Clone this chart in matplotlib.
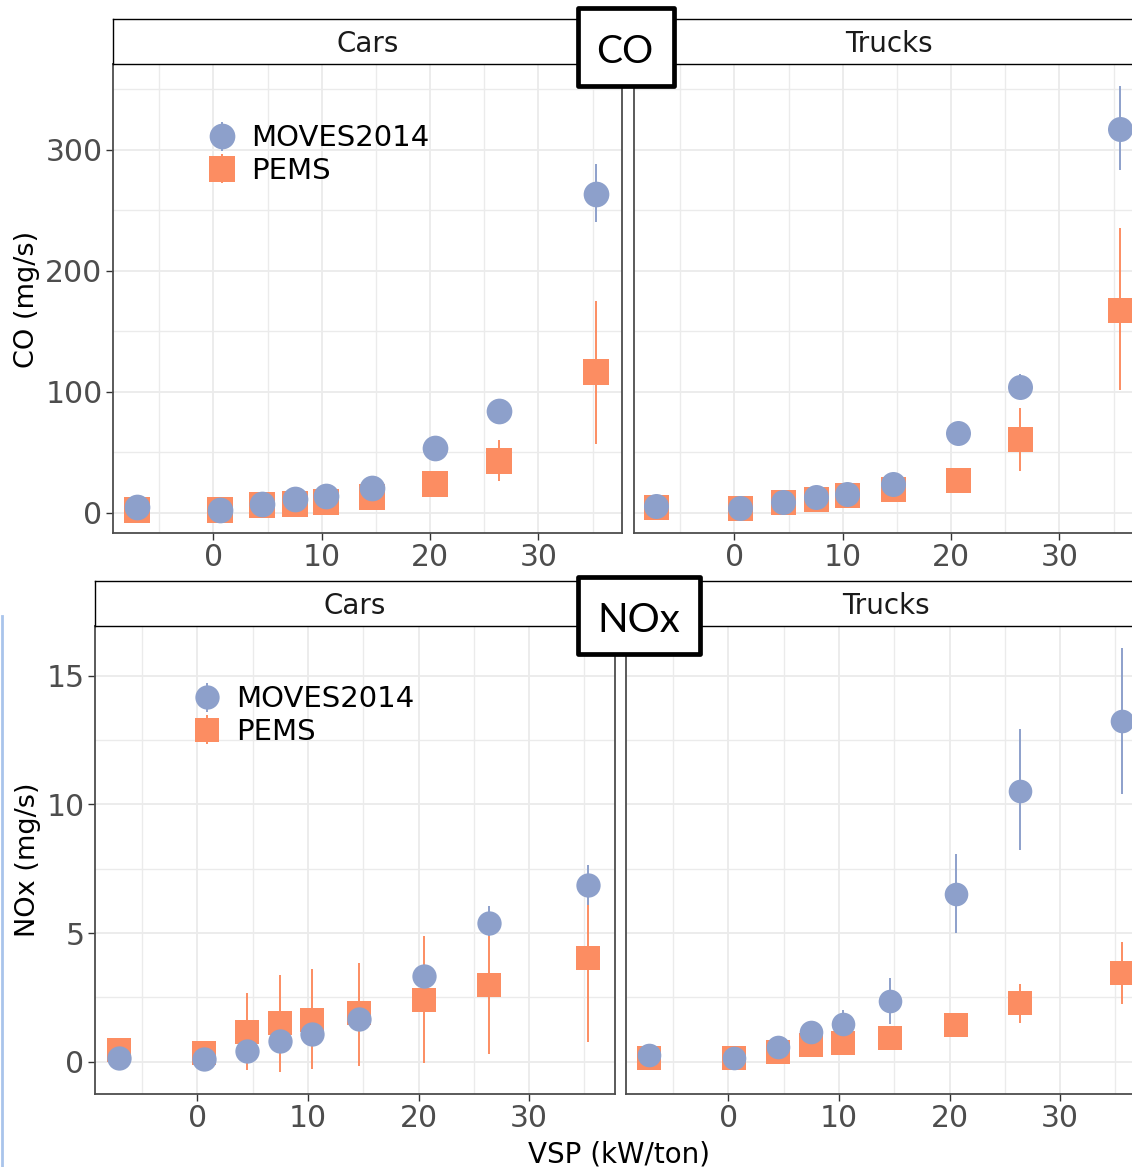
import matplotlib
matplotlib.use('Agg')
import matplotlib.pyplot as plt
from matplotlib.patches import Rectangle
from matplotlib.lines import Line2D
from matplotlib.ticker import FixedLocator

plt.rcParams['font.family'] = ['DejaVu Sans']

W, H = 1132, 1167

# VSP bin centres (kW/ton)
vsp_cars = [-7.1, 0.6, 4.5, 7.5, 10.4, 14.6, 20.5, 26.4, 35.3]
vsp_trucks = [-7.2, 0.5, 4.5, 7.5, 10.4, 14.6, 20.6, 26.4, 35.6]

# CO (mg/s) - cars
co_cars_moves = [5.2, 2.1, 7.6, 11.3, 13.7, 20.5, 54, 84, 263]
co_cars_moves_lo = [4, 1, 6, 10, 12, 19, 52, 82, 240]
co_cars_moves_hi = [6.5, 3, 9, 13, 15.5, 22, 56, 87, 288]
co_cars_pems = [2.1, 2.7, 6.7, 7.6, 8.9, 12.8, 23.5, 42.8, 116]
co_cars_pems_lo = [1, 1.5, 5, 6, 7, 10, 20, 26, 57]
co_cars_pems_hi = [3.5, 4, 8.5, 9.5, 11, 16, 27, 60, 175]

# CO (mg/s) - trucks
co_trucks_moves = [6.1, 3.7, 8.9, 13.4, 15.3, 24.1, 66.3, 104, 317]
co_trucks_moves_lo = [5, 2.5, 7.5, 12, 14, 22, 63, 94, 283]
co_trucks_moves_hi = [7.5, 5, 10.5, 15, 17, 26.5, 70, 115, 353]
co_trucks_pems = [4.6, 3.7, 8.9, 11.3, 15, 19.6, 27.5, 60.8, 167.7]
co_trucks_pems_lo = [3, 2.5, 7, 9.5, 13, 17, 24, 34.8, 101.4]
co_trucks_pems_hi = [6, 5, 11, 13, 17, 22.5, 31, 86.8, 235]

# NOx (mg/s) - cars
nox_cars_moves = [0.15, 0.09, 0.4, 0.81, 1.06, 1.64, 3.34, 5.39, 6.87]
nox_cars_moves_lo = [0.1, 0.05, 0.33, 0.7, 0.95, 1.5, 3.1, 4.9, 6.1]
nox_cars_moves_hi = [0.2, 0.13, 0.47, 0.92, 1.2, 1.8, 3.6, 6.07, 7.65]
nox_cars_pems = [0.46, 0.34, 1.15, 1.49, 1.62, 1.88, 2.39, 2.97, 4.03]
nox_cars_pems_lo = [0.05, 0.15, -0.34, -0.4, -0.28, -0.18, -0.04, 0.3, 0.78]
nox_cars_pems_hi = [0.93, 0.55, 2.66, 3.35, 3.59, 3.83, 4.89, 5.0, 6.3]

# NOx (mg/s) - trucks
nox_trucks_moves = [0.24, 0.13, 0.56, 1.15, 1.45, 2.35, 6.53, 10.53, 13.25]
nox_trucks_moves_lo = [0.15, 0.08, 0.45, 1.0, 1.2, 1.48, 4.99, 8.24, 10.4]
nox_trucks_moves_hi = [0.33, 0.2, 0.68, 1.3, 2.0, 3.25, 8.08, 12.92, 16.1]
nox_trucks_pems = [0.15, 0.15, 0.38, 0.64, 0.74, 0.93, 1.43, 2.27, 3.44]
nox_trucks_pems_lo = [0.1, 0.1, 0.3, 0.55, 0.64, 0.82, 1.3, 1.52, 2.23]
nox_trucks_pems_hi = [0.2, 0.2, 0.46, 0.74, 0.85, 1.05, 1.56, 3.03, 4.67]

x_ticks = [0, 10, 20, 30]
x_minor = [-5, 5, 15, 25, 35]
co_ticks = [0, 100, 200, 300]
co_minor = [50, 150, 250, 350]
nox_ticks = [0, 5, 10, 15]
nox_minor = [2.5, 7.5, 12.5]

blue = '#8DA0CB'
orange = '#FC8D62'

fig = plt.figure(figsize=(W / 100, H / 100), dpi=100)


def px_axes(left, top, width, height):
    return fig.add_axes([left / W, 1 - (top + height) / H, width / W, height / H])


def errs(mean, lo, hi):
    return [[m - l for m, l in zip(mean, lo)], [h - m for m, h in zip(mean, hi)]]


def panel(left, top, width, height, strip_h, title, x, moves, pems,
          ylim, yticks, yminor, ms, show_y):
    ax = px_axes(left, top, width, height)
    hp = ax.errorbar(x, pems[0], yerr=errs(*pems), fmt='s', color=orange,
                     ms=ms, mew=0, elinewidth=1.4, capsize=0, zorder=3)
    hm = ax.errorbar(x, moves[0], yerr=errs(*moves), fmt='o', color=blue,
                     ms=ms, mew=0, elinewidth=1.4, capsize=0, zorder=4)
    ax.set_xlim(-9.27, 37.72)
    ax.set_ylim(*ylim)
    ax.xaxis.set_major_locator(FixedLocator(x_ticks))
    ax.xaxis.set_minor_locator(FixedLocator(x_minor))
    ax.yaxis.set_major_locator(FixedLocator(yticks))
    ax.yaxis.set_minor_locator(FixedLocator(yminor))
    ax.set_axisbelow(True)
    ax.grid(which='major', color='#EBEBEB', lw=1.3)
    ax.grid(which='minor', color='#EBEBEB', lw=1.0)
    ax.tick_params(which='minor', length=0)
    ax.tick_params(which='major', length=5, width=1, color='#333333',
                   labelsize=21.5, labelcolor='#4D4D4D', pad=2.5)
    if not show_y:
        ax.tick_params(axis='y', left=False, labelleft=False)
    for s in ax.spines.values():
        s.set_color('#4D4D4D')
        s.set_linewidth(1.3)

    st = px_axes(left, top - strip_h, width, strip_h)
    st.set_xticks([])
    st.set_yticks([])
    for s in st.spines.values():
        s.set_color('black')
        s.set_linewidth(1.0)
    st.text(0.5, 0.44, title, ha='center', va='center', fontsize=20,
            color='#1A1A1A', transform=st.transAxes)
    return ax, hm, hp


# CO figure (top)
ax_co, hm, hp = panel(113, 63.5, 509, 469, 45, 'Cars', vsp_cars,
                      (co_cars_moves, co_cars_moves_lo, co_cars_moves_hi),
                      (co_cars_pems, co_cars_pems_lo, co_cars_pems_hi),
                      (-16.2, 371.2), co_ticks, co_minor, 18.5, True)
ax_co.legend([hm, hp], ['MOVES2014', 'PEMS'], loc='upper left',
             bbox_to_anchor=(0.185, 0.87), frameon=False, fontsize=21,
             handlelength=1.0, handletextpad=0.5, labelspacing=0.15,
             borderaxespad=0, borderpad=0)
panel(634, 63.5, 509, 469, 45, 'Trucks', vsp_trucks,
      (co_trucks_moves, co_trucks_moves_lo, co_trucks_moves_hi),
      (co_trucks_pems, co_trucks_pems_lo, co_trucks_pems_hi),
      (-16.2, 371.2), co_ticks, co_minor, 18, False)

# NOx figure (bottom)
ax_nox, hm, hp = panel(95, 625.5, 519.5, 468.5, 44.5, 'Cars', vsp_cars,
                       (nox_cars_moves, nox_cars_moves_lo, nox_cars_moves_hi),
                       (nox_cars_pems, nox_cars_pems_lo, nox_cars_pems_hi),
                       (-1.26, 16.96), nox_ticks, nox_minor, 17.5, True)
ax_nox.legend([hm, hp], ['MOVES2014', 'PEMS'], loc='upper left',
              bbox_to_anchor=(0.188, 0.872), frameon=False, fontsize=21,
              handlelength=1.0, handletextpad=0.5, labelspacing=0.15,
              borderaxespad=0, borderpad=0)
panel(626, 625.5, 519.5, 468.5, 44.5, 'Trucks', vsp_trucks,
      (nox_trucks_moves, nox_trucks_moves_lo, nox_trucks_moves_hi),
      (nox_trucks_pems, nox_trucks_pems_lo, nox_trucks_pems_hi),
      (-1.26, 16.96), nox_ticks, nox_minor, 17, False)

# axis titles
fig.text(27 / W, 1 - 299 / H, 'CO (mg/s)', rotation=90, ha='center',
         va='center', fontsize=19.5)
fig.text(28 / W, 1 - 860 / H, 'NOx (mg/s)', rotation=90, ha='center',
         va='center', fontsize=19.5)
fig.text(619 / W, 1 - 1163 / H, 'VSP (kW/ton)', ha='center',
         va='baseline', fontsize=20)

# boxed pollutant labels
for (x0, y0, x1, y1), label, cx, base, fs in [
        ((578.3, 8.3, 673.7, 85.7), 'CO', 624.5, 63, 28),
        ((578, 577, 700.4, 653.7), 'NOx', 638.5, 631.7, 29)]:
    fig.add_artist(Rectangle((x0 / W, 1 - y1 / H), (x1 - x0) / W, (y1 - y0) / H,
                             transform=fig.transFigure, facecolor='white',
                             edgecolor='black', lw=3.4, joinstyle='round',
                             zorder=10))
    fig.text(cx / W, 1 - base / H, label, ha='center', va='baseline',
             fontsize=fs, family='Lato', zorder=11)

# thin blue line at left edge
fig.add_artist(Line2D([1.5 / W, 1.5 / W], [1 - 616 / H, 0],
                      transform=fig.transFigure, color='#A9C4EB', lw=2))

fig.savefig('out.png', dpi=100)
